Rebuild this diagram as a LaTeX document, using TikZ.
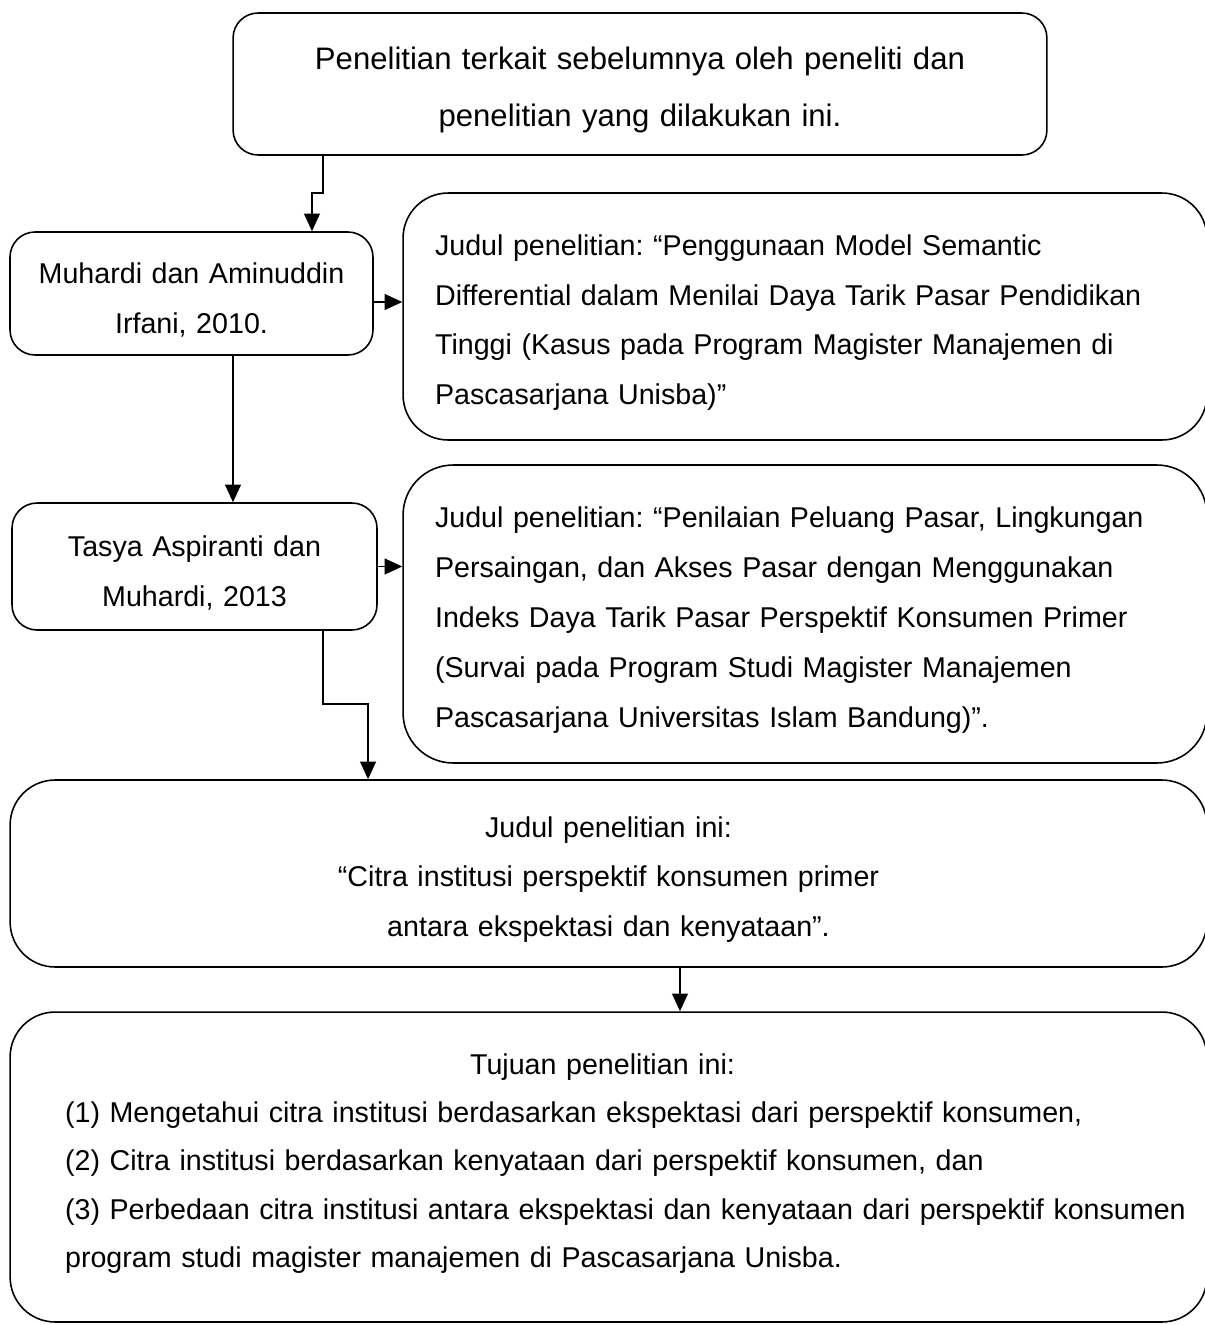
\documentclass[tikz,border=0pt]{standalone}
\usepackage{fontspec}
\setmainfont{Liberation Sans}
\usetikzlibrary{arrows.meta}

\begin{document}
\begin{tikzpicture}[x=0.02cm, y=-0.02cm,
        box/.style={draw, line width=0.9pt, rounded corners=0.5cm, inner sep=0pt,
            font=\fontsize{16.3}{28.4}\selectfont\frenchspacing},
        turun/.style={execute at begin node={\rule{0pt}{#1}}},
        arr/.style={line width=0.9pt, -{Triangle[length=10pt, width=9pt]}}]
        \useasboundingbox (0,0) rectangle (1204,1325);

        % kotak atas
        \node[box, align=center, text width=16.28cm, minimum height=2.84cm,
            font=\fontsize{17.7}{32.4}\selectfont\frenchspacing, turun=19.7pt] (awal) at (640,84)
            {Penelitian terkait sebelumnya oleh peneliti dan\\penelitian yang dilakukan ini.};

        % peneliti terdahulu
        \node[box, align=center, text width=7.26cm, minimum height=2.46cm, turun=18.7pt] (muhardi) at (191.5,293.5)
            {Muhardi dan Aminuddin\\Irfani, 2010.};
        \node[box, align=center, text width=7.3cm, minimum height=2.54cm, turun=18.7pt] (tasya) at (194.5,566.5)
            {Tasya Aspiranti dan\\Muhardi, 2013};

        % judul penelitian terdahulu
        \node[box, rounded corners=0.9cm, align=left, text width=14.8cm, inner xsep=0.64cm,
            minimum height=4.94cm, turun=18.7pt] (judulsatu) at (805,316.5)
            {Judul penelitian: “Penggunaan Model Semantic\\
             Differential dalam Menilai Daya Tarik Pasar Pendidikan\\
             Tinggi (Kasus pada Program Magister Manajemen di\\
             Pascasarjana Unisba)”};
        \node[box, rounded corners=1cm, align=left, text width=14.8cm, inner xsep=0.64cm,
            minimum height=5.96cm, turun=18.7pt] (juduldua) at (805,614)
            {Judul penelitian: “Penilaian Peluang Pasar, Lingkungan\\
             Persaingan, dan Akses Pasar dengan Menggunakan\\
             Indeks Daya Tarik Pasar Perspektif Konsumen Primer\\
             (Survai pada Program Studi Magister Manajemen\\
             Pascasarjana Universitas Islam Bandung)”.};

        % penelitian ini
        \node[box, rounded corners=0.9cm, align=center, text width=23.94cm,
            minimum height=3.74cm, turun=18.7pt] (ini) at (608.5,873.5)
            {Judul penelitian ini:\\
             “Citra institusi perspektif konsumen primer\\
             antara ekspektasi dan kenyataan”.};
        \node[box, rounded corners=0.9cm, align=left, text width=21.74cm, inner xsep=1.1cm,
            minimum height=6.2cm, font=\fontsize{16.3}{27.4}\selectfont\frenchspacing] (tujuan) at (608.5,1167)
            {\makebox[21.5cm][c]{Tujuan penelitian ini:}\\
             (1) Mengetahui citra institusi berdasarkan ekspektasi dari perspektif konsumen,\\
             (2) Citra institusi berdasarkan kenyataan dari perspektif konsumen, dan\\
             \mbox{(3) Perbedaan citra institusi antara ekspektasi dan kenyataan dari perspektif konsumen}\\
             program studi magister manajemen di Pascasarjana Unisba.\rule[-7.4pt]{0pt}{0pt}};

        % panah
        \draw[arr] ([xshift=-6.34cm]awal.south) -- ++(0,37) -| ([xshift=2.41cm]muhardi.north);
        \draw[arr] ([xshift=0.83cm]muhardi.south) -- ([xshift=0.83cm]muhardi.south |- tasya.north);
        \draw[arr] ([yshift=-0.17cm]muhardi.east) -- ([yshift=-0.17cm]muhardi.east -| judulsatu.west);
        \draw[arr] (tasya.east) -- (tasya.east -| juduldua.west);
        \draw[arr] ([xshift=2.57cm]tasya.south) -- ++(0,73) -| ([xshift=-4.81cm]ini.north);
        \draw[arr] ([xshift=1.43cm]ini.south) -- ([xshift=1.43cm]ini.south |- tujuan.north);

    \end{tikzpicture}
\end{document}
